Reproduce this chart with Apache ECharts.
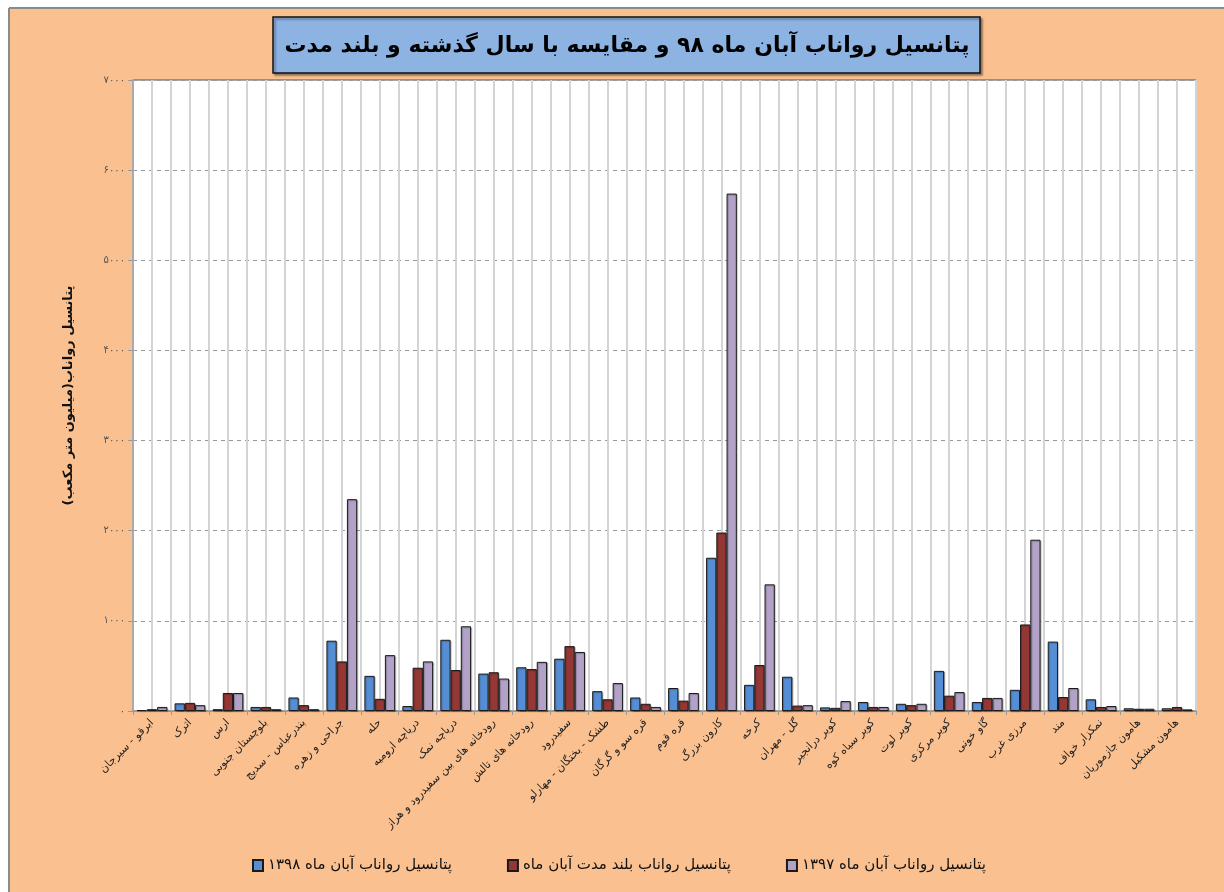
<!DOCTYPE html>
<html><head><meta charset="utf-8">
<script src="https://cdn.jsdelivr.net/npm/echarts@6/dist/echarts.min.js"></script>
<style>html,body{margin:0;padding:0;background:#fff}#c{width:1224px;height:892px}</style>
</head><body><div id="c"></div>
<script>
const categories = ['ابرقو - سیرجان','اترک','ارس','بلوچستان جنوبی','بندرعباس - سدیج','جراحی و زهره','حله','دریاچه ارومیه','دریاچه نمک','رودخانه های بین سفیدرود و هراز','رودخانه های تالش','سفیدرود','طشک - بختگان - مهارلو','قره سو و گرگان','قره قوم','کارون بزرگ','کرخه','گل - مهران','کویر درانجیر','کویر سیاه کوه','کویر لوت','کویر مرکزی','گاو خونی','مرزی غرب','مند','نمکزار خواف','هامون جازموریان','هامون مشکیل'];
const values1398 = [10, 85, 20, 45, 150, 780, 390, 55, 790, 415, 485, 580, 220, 150, 255, 1700, 290, 380, 40, 100, 80, 445, 100, 235, 770, 130, 30, 30];
const valuesLongTerm = [20, 90, 200, 45, 65, 550, 135, 480, 455, 430, 465, 720, 130, 80, 115, 1980, 510, 60, 35, 45, 65, 170, 145, 960, 155, 45, 25, 45];
const values1397 = [45, 65, 200, 20, 20, 2350, 620, 550, 940, 360, 545, 655, 310, 45, 200, 5740, 1405, 65, 110, 45, 80, 210, 145, 1900, 255, 55, 25, 18];
const seriesNames = ['پتانسیل رواناب آبان ماه ۱۳۹۸','پتانسیل رواناب بلند مدت آبان ماه','پتانسیل رواناب آبان ماه ۱۳۹۷'];
const titleText = 'پتانسیل رواناب آبان ماه ۹۸ و مقایسه با سال گذشته و بلند مدت';
const yAxisName = 'پتانسیل رواناب(میلیون متر مکعب)';

const FONT = 'DejaVu Sans';
const faDigits = s => String(s).replace(/\d/g, d => '۰۱۲۳۴۵۶۷۸۹'[d]);
const halfBands = [];
categories.forEach((c, i) => { halfBands.push(i + 'a'); halfBands.push(i + 'b'); });

const chart = echarts.init(document.getElementById('c'), null, {renderer: 'canvas'});
const barStyle = (color) => ({color: color, borderColor: '#1a1a1a', borderWidth: 1,
  shadowColor: 'rgba(0,0,0,0.25)', shadowOffsetX: 1, shadowOffsetY: 1, shadowBlur: 1});
chart.setOption({
  backgroundColor: '#FAC090',
  animation: false,
  textStyle: {fontFamily: FONT},
  graphic: [
    {type: 'rect', shape: {x: 0, y: 0, width: 1224, height: 8}, style: {fill: '#fff'}, z: 100},
    {type: 'rect', shape: {x: 0, y: 0, width: 9, height: 892}, style: {fill: '#fff'}, z: 100},
    {type: 'line', shape: {x1: 9, y1: 8, x2: 1224, y2: 8}, style: {stroke: '#8a8a8a', lineWidth: 2}, z: 101},
    {type: 'line', shape: {x1: 9, y1: 8, x2: 9, y2: 892}, style: {stroke: '#8a8a8a', lineWidth: 2}, z: 101},
    {type: 'rect', shape: {x: 273, y: 17, width: 707, height: 56},
      style: {fill: '#8DB3E2', stroke: '#111', lineWidth: 1.5, shadowColor: 'rgba(0,0,0,0.35)', shadowOffsetX: 2, shadowOffsetY: 2, shadowBlur: 2}, z: 100},
    {type: 'text', x: 627, y: 46, z: 101,
      style: {text: titleText, fontFamily: FONT, fontWeight: 'bold', fontSize: 22, fill: '#000', align: 'center', verticalAlign: 'middle'}}
  ],
  legend: {
    left: 247, top: 853, itemWidth: 10, itemHeight: 11, itemGap: 55, icon: 'rect',
    textStyle: {fontFamily: FONT, fontSize: 15, color: '#111'},
    data: seriesNames
  },
  grid: {left: 133, top: 80, right: 28, bottom: 181, show: true, backgroundColor: '#fff', borderColor: '#555', borderWidth: 1},
  xAxis: [
    {type: 'category', data: categories, boundaryGap: true,
      axisLine: {lineStyle: {color: '#999', width: 1.5}},
      axisTick: {show: true, alignWithLabel: false, length: 4, lineStyle: {color: '#999'}},
      axisLabel: {interval: 0, rotate: 45, fontFamily: FONT, fontSize: 11, color: '#222', margin: 10},
      splitLine: {show: false}},
    {type: 'category', data: halfBands, boundaryGap: true, position: 'bottom',
      axisLine: {show: false}, axisTick: {show: false}, axisLabel: {show: false, interval: 0},
      splitLine: {show: true, interval: 0, lineStyle: {color: '#d4d4d4', width: 2}}}
  ],
  yAxis: {
    type: 'value', min: 0, max: 7000, interval: 1000,
    name: yAxisName, nameLocation: 'middle', nameGap: 58, nameRotate: 90,
    nameTextStyle: {fontFamily: FONT, fontWeight: 'bold', fontSize: 13, color: '#111'},
    axisLine: {show: true, lineStyle: {color: '#aaa', width: 2}},
    axisTick: {show: true, length: 5, lineStyle: {color: '#999'}},
    axisLabel: {formatter: v => faDigits(v), fontFamily: FONT, fontSize: 10, color: '#555', margin: 8},
    splitLine: {show: true, lineStyle: {color: '#999', type: [4, 4], width: 1}}
  },
  series: [
    {name: seriesNames[0], type: 'bar', data: values1398, barGap: '0%', barCategoryGap: '19%', itemStyle: barStyle('#558ED5')},
    {name: seriesNames[1], type: 'bar', data: valuesLongTerm, barGap: '0%', barCategoryGap: '19%', itemStyle: barStyle('#953735')},
    {name: seriesNames[2], type: 'bar', data: values1397, barGap: '0%', barCategoryGap: '19%', itemStyle: barStyle('#B3A2C7')}
  ]
});
</script></body></html>
